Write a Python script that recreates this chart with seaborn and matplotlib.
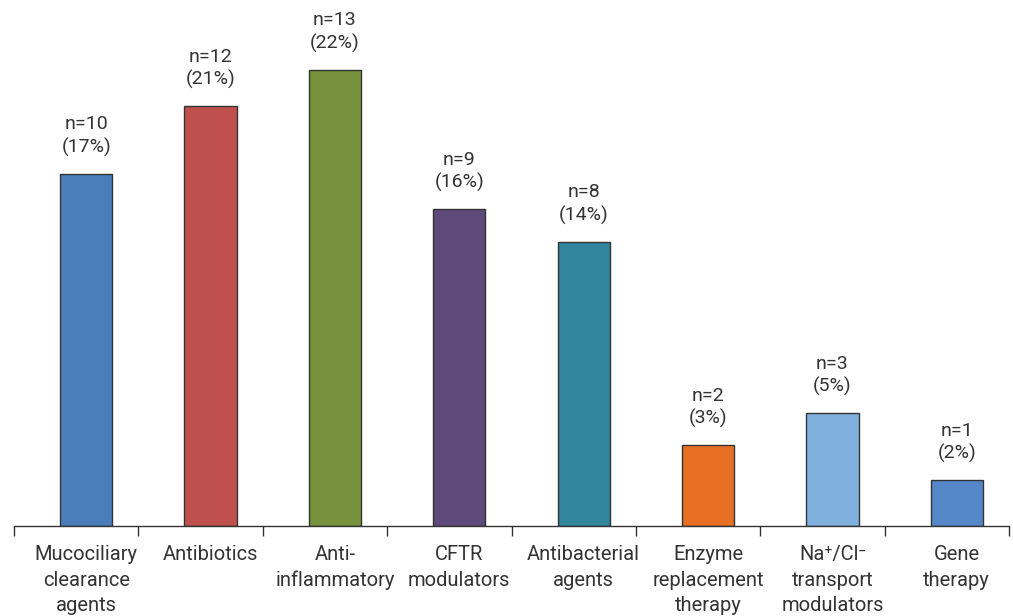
import matplotlib
matplotlib.use("Agg")
import matplotlib.pyplot as plt
import seaborn as sns
import pandas as pd
import numpy as np

categories = ["Mucociliary\nclearance\nagents", "Antibiotics", "Anti-\ninflammatory",
              "CFTR\nmodulators", "Antibacterial\nagents", "Enzyme\nreplacement\ntherapy",
              "Na\u207a/Cl\u207b\ntransport\nmodulators", "Gene\ntherapy"]
n_values = [10, 12, 13, 9, 8, 2, 3, 1]
percents = [17, 21, 22, 16, 14, 3, 5, 2]
# bar heights as drawn in the figure (in units of n)
heights = [10.0, 11.92, 12.95, 9.0, 8.07, 2.29, 3.2, 1.3]
colors = ["#4A7EBB", "#C0504D", "#76923C", "#5F4B7B", "#31859C", "#E87025", "#7FB0DE", "#5488C8"]

sns.set_style("white")
plt.rcParams['font.family'] = ['Roboto', 'DejaVu Sans']

df = pd.DataFrame({"cat": categories, "h": heights})

fig = plt.figure(figsize=(10.13, 6.16), dpi=100)
ax = fig.add_axes([14/1013, 90/616, (1009-14)/1013, 526/616])

sns.barplot(data=df, x="cat", y="h", hue="cat", palette=colors, width=0.42,
            edgecolor="#333333", linewidth=1.0, legend=False, ax=ax, saturation=1)

shift = 0.58
ax.set_xlim(-shift, len(categories) - shift)
ax.set_ylim(0, 526/35.2)

for i, (n, p, h) in enumerate(zip(n_values, percents, heights)):
    ax.annotate(f"n={n}\n({p}%)", xy=(i, h), xytext=(0, 17), textcoords="offset pixels",
                ha="center", va="bottom", fontsize=14, color="#333333", linespacing=1.3)

ax.set_xlabel("")
ax.set_ylabel("")
ax.set_yticks([])
ax.set_xticks(range(len(categories)))
ax.set_xticklabels(categories, fontsize=14.5, color="#333333", linespacing=1.42)
ax.tick_params(axis="x", which="major", length=0, pad=14, bottom=False)
ax.set_xticks(np.arange(-shift, len(categories)), minor=True)
ax.tick_params(axis="x", which="minor", bottom=True, length=7, width=1, color="#333333", direction="out")

for s in ["left", "right", "top"]:
    ax.spines[s].set_visible(False)
ax.spines["bottom"].set_color("#333333")
ax.spines["bottom"].set_linewidth(1)

fig.savefig("out.png", dpi=100)
